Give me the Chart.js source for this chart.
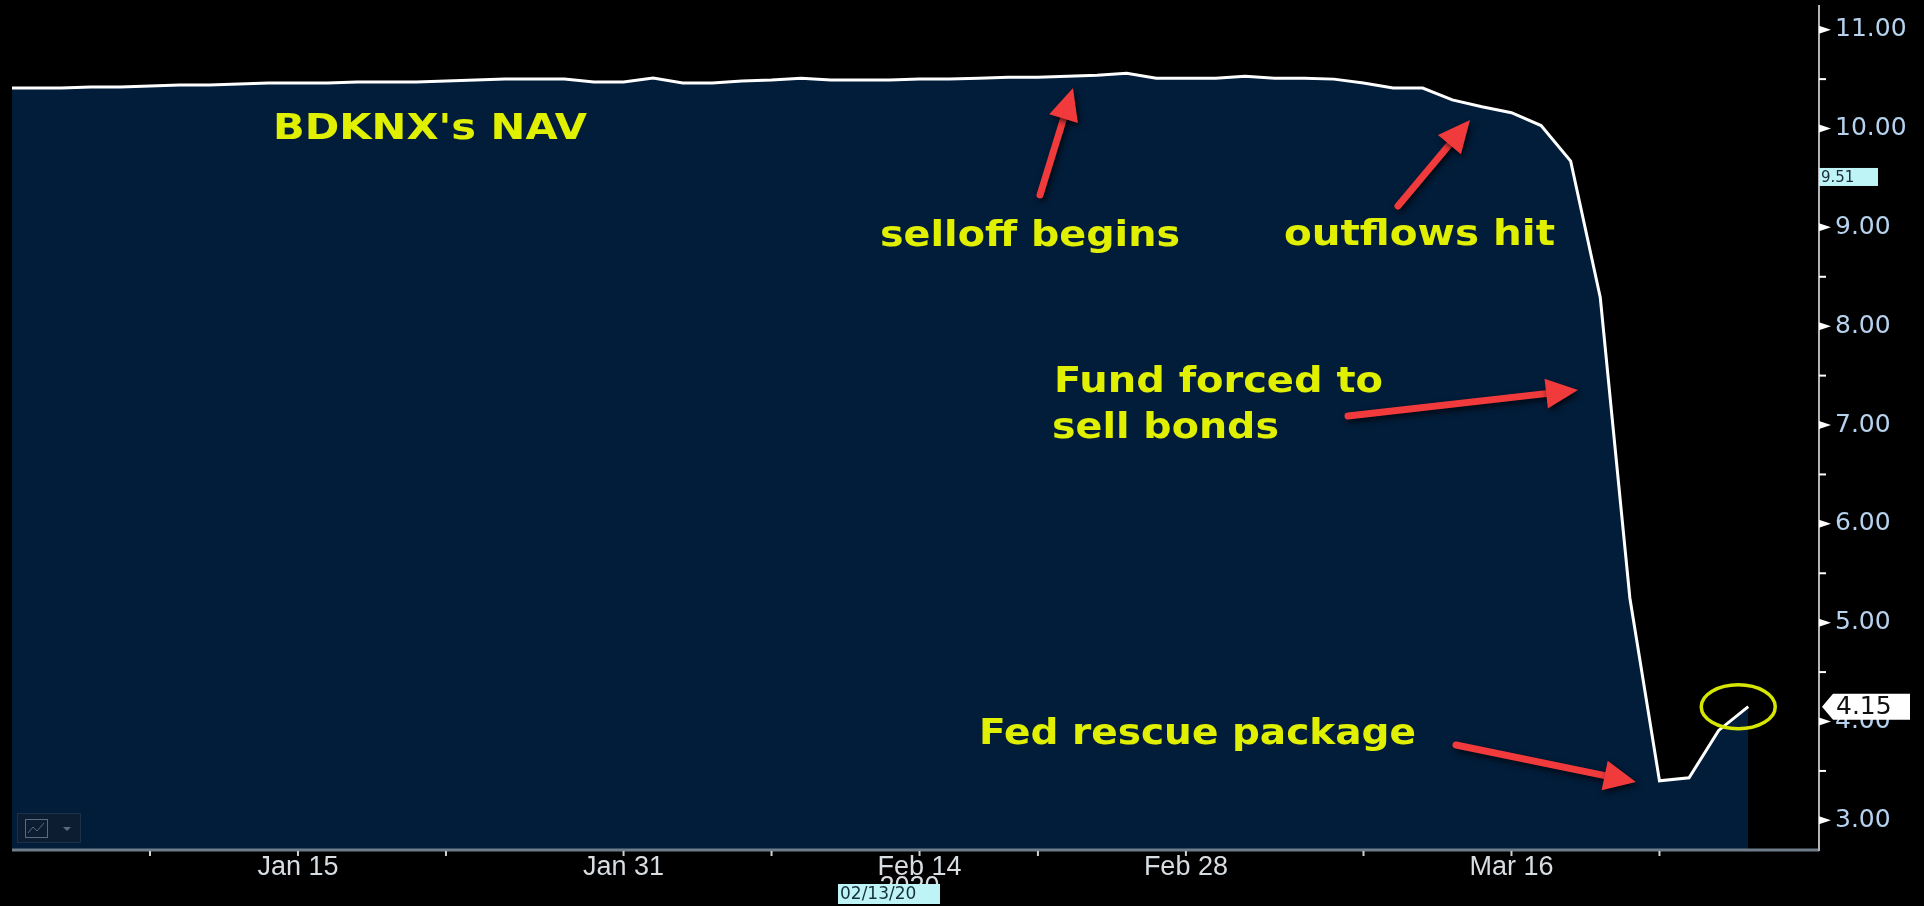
<!DOCTYPE html>
<html>
<head>
<meta charset="utf-8">
<script src="https://cdn.jsdelivr.net/npm/chart.js@4.4.1/dist/chart.umd.min.js"></script>
<style>
  html, body { margin: 0; padding: 0; background: #000; }
  #wrap { width: 1924px; height: 906px; }
</style>
</head>
<body>
<div id="wrap"><canvas id="navChart" width="1924" height="906"></canvas></div>
<script>
// trading days shown on the chart (Dec 31 2019 .. Mar 26 2020)
const days = [
  'Dec 31',
  'Jan 2', 'Jan 3', 'Jan 6', 'Jan 7', 'Jan 8', 'Jan 9', 'Jan 10', 'Jan 13', 'Jan 14', 'Jan 15',
  'Jan 16', 'Jan 17', 'Jan 21', 'Jan 22', 'Jan 23', 'Jan 24', 'Jan 27', 'Jan 28', 'Jan 29', 'Jan 30', 'Jan 31',
  'Feb 3', 'Feb 4', 'Feb 5', 'Feb 6', 'Feb 7', 'Feb 10', 'Feb 11', 'Feb 12', 'Feb 13', 'Feb 14',
  'Feb 18', 'Feb 19', 'Feb 20', 'Feb 21', 'Feb 24', 'Feb 25', 'Feb 26', 'Feb 27', 'Feb 28',
  'Mar 2', 'Mar 3', 'Mar 4', 'Mar 5', 'Mar 6', 'Mar 9', 'Mar 10', 'Mar 11', 'Mar 12', 'Mar 13',
  'Mar 16', 'Mar 17', 'Mar 18', 'Mar 19', 'Mar 20', 'Mar 23', 'Mar 24', 'Mar 25', 'Mar 26'
];

// BDKNX net asset value
const navValues = [
  10.41,
  10.41, 10.41, 10.42, 10.42, 10.43, 10.44, 10.44, 10.45, 10.46, 10.46,
  10.46, 10.47, 10.47, 10.47, 10.48, 10.49, 10.50, 10.50, 10.50, 10.47, 10.47,
  10.51, 10.46, 10.46, 10.48, 10.49, 10.51, 10.49, 10.49, 10.49, 10.50,
  10.50, 10.51, 10.52, 10.52, 10.53, 10.54, 10.56, 10.51, 10.51,
  10.51, 10.53, 10.51, 10.51, 10.50, 10.46, 10.41, 10.41, 10.29, 10.22,
  10.16, 10.03, 9.67, 8.29, 5.25, 3.40, 3.43, 3.91, 4.15
];

const majorDays = ['Jan 15', 'Jan 31', 'Feb 14', 'Feb 28', 'Mar 16'];
const minorDays = ['Jan 8', 'Jan 23', 'Feb 7', 'Feb 21', 'Mar 9', 'Mar 23'];
const yTicks = [3, 4, 5, 6, 7, 8, 9, 10, 11];
const markerValue = 9.51;
const yearLabel = '2020';
const cursorDate = '02/13/20';

const notes = [
  { text: "BDKNX's NAV", left: 273, right: 587, base: 139, size: 35 },
  { text: 'selloff begins', left: 880, right: 1180, base: 246, size: 36 },
  { text: 'outflows hit', left: 1284, right: 1555, base: 245, size: 36 },
  { text: 'Fund forced to', left: 1054, right: 1383, base: 392, size: 35 },
  { text: 'sell bonds', left: 1052, right: 1279, base: 438, size: 35 },
  { text: 'Fed rescue package', left: 979, right: 1416, base: 744, size: 35 }
];
const arrows = [
  [1040, 195, 1073, 88],
  [1398, 206, 1470, 120],
  [1348, 416, 1578, 390],
  [1456, 745, 1636, 782]
];

const YELLOW = '#e0f000';

function fitText(ctx, text, left, right, base, size) {
  ctx.font = 'bold ' + size + 'px "DejaVu Sans"';
  const w = ctx.measureText(text).width;
  ctx.save();
  ctx.translate(left, base);
  ctx.scale((right - left) / w, 1);
  ctx.fillText(text, 0, 0);
  ctx.restore();
}

function drawArrow(ctx, x1, y1, x2, y2) {
  const a = Math.atan2(y2 - y1, x2 - x1);
  const c = Math.cos(a), s = Math.sin(a);
  const headLen = 32, half = 15;
  const bx = x2 - headLen * c, by = y2 - headLen * s;
  ctx.save();
  ctx.shadowColor = 'rgba(0,0,0,0.75)';
  ctx.shadowBlur = 6;
  ctx.shadowOffsetX = 2;
  ctx.shadowOffsetY = 3;
  ctx.strokeStyle = '#f03a3c';
  ctx.fillStyle = '#f03a3c';
  ctx.lineWidth = 7;
  ctx.lineCap = 'round';
  ctx.beginPath();
  ctx.moveTo(x1, y1);
  ctx.lineTo(bx + 4 * c, by + 4 * s);
  ctx.stroke();
  ctx.beginPath();
  ctx.moveTo(x2, y2);
  ctx.lineTo(bx - half * s, by + half * c);
  ctx.lineTo(bx + half * s, by - half * c);
  ctx.closePath();
  ctx.fill();
  ctx.restore();
}

const overlay = {
  id: 'overlay',
  afterDraw(chart) {
    const ctx = chart.ctx;
    const x = chart.scales.x, y = chart.scales.y;
    const area = chart.chartArea;

    ctx.save();
    // axis lines
    ctx.strokeStyle = '#6f7c8a';
    ctx.lineWidth = 3;
    ctx.beginPath();
    ctx.moveTo(area.left, area.bottom + 1);
    ctx.lineTo(area.right, area.bottom + 1);
    ctx.stroke();
    ctx.strokeStyle = '#b4b4b4';
    ctx.lineWidth = 2;
    ctx.beginPath();
    ctx.moveTo(area.right, area.top);
    ctx.lineTo(area.right, area.bottom + 2);
    ctx.stroke();

    // y ticks: triangles on whole numbers, short dashes on halves
    ctx.fillStyle = '#ffffff';
    yTicks.forEach((v) => {
      const py = y.getPixelForValue(v);
      ctx.beginPath();
      ctx.moveTo(area.right, py - 4);
      ctx.lineTo(area.right + 12, py);
      ctx.lineTo(area.right, py + 4);
      ctx.closePath();
      ctx.fill();
      if (v < 11) {
        const ph = y.getPixelForValue(v + 0.5);
        ctx.fillRect(area.right, ph - 1, 7, 2);
      }
    });

    // x ticks
    ctx.fillStyle = '#d0d0d0';
    majorDays.concat(minorDays).forEach((d) => {
      const px = x.getPixelForValue(days.indexOf(d));
      ctx.fillRect(px - 1, area.bottom + 2, 2, 5);
    });

    // year label partly hidden behind the cursor date box
    ctx.font = '27px "Liberation Sans"';
    ctx.fillStyle = '#d8dde2';
    ctx.textAlign = 'center';
    ctx.textBaseline = 'top';
    ctx.fillText(yearLabel, x.getPixelForValue(days.indexOf('Feb 14')) - 10, 874);
    ctx.fillStyle = '#bff4f6';
    ctx.fillRect(838, 884, 102, 20);
    ctx.font = '17px "DejaVu Sans"';
    ctx.fillStyle = '#15303a';
    ctx.textAlign = 'left';
    ctx.textBaseline = 'middle';
    ctx.fillText(cursorDate, 840, 895);

    // 9.51 marker on the price axis
    const pm = y.getPixelForValue(markerValue);
    ctx.fillStyle = '#bff4f6';
    ctx.fillRect(area.right, pm - 9, 59, 18);
    ctx.font = '15px "DejaVu Sans"';
    ctx.fillStyle = '#1a2a36';
    ctx.fillText(markerValue.toFixed(2), area.right + 2, pm + 1);

    // last value flag
    const last = navValues[navValues.length - 1];
    const pl = y.getPixelForValue(last);
    ctx.fillStyle = '#ffffff';
    ctx.beginPath();
    ctx.moveTo(area.right + 3, pl);
    ctx.lineTo(area.right + 14, pl - 13);
    ctx.lineTo(1910, pl - 13);
    ctx.lineTo(1910, pl + 13);
    ctx.lineTo(area.right + 14, pl + 13);
    ctx.closePath();
    ctx.fill();
    ctx.font = '25px "DejaVu Sans"';
    ctx.fillStyle = '#111111';
    ctx.fillText(last.toFixed(2), area.right + 17, pl + 1);

    // little chart-type button, bottom left
    ctx.fillStyle = '#0c1d31';
    ctx.fillRect(17, 813, 64, 30);
    ctx.strokeStyle = '#1d3046';
    ctx.lineWidth = 1;
    ctx.strokeRect(17.5, 813.5, 63, 29);
    ctx.strokeStyle = '#5b6b7c';
    ctx.strokeRect(25.5, 819.5, 22, 18);
    ctx.beginPath();
    ctx.moveTo(28, 833);
    ctx.lineTo(33, 827);
    ctx.lineTo(37, 831);
    ctx.lineTo(44, 823);
    ctx.stroke();
    ctx.fillStyle = '#5b6b7c';
    ctx.beginPath();
    ctx.moveTo(63, 827);
    ctx.lineTo(71, 827);
    ctx.lineTo(67, 831);
    ctx.closePath();
    ctx.fill();

    // annotations
    ctx.fillStyle = YELLOW;
    ctx.textAlign = 'left';
    ctx.textBaseline = 'alphabetic';
    notes.forEach((n) => fitText(ctx, n.text, n.left, n.right, n.base, n.size));
    arrows.forEach((a) => drawArrow(ctx, a[0], a[1], a[2], a[3]));

    // circle round the latest value
    ctx.strokeStyle = '#d6e600';
    ctx.lineWidth = 3.5;
    ctx.beginPath();
    ctx.ellipse(x.getPixelForValue(navValues.length - 1) - 10, pl, 37, 22, 0, 0, Math.PI * 2);
    ctx.stroke();
    ctx.restore();
  }
};

const ctx = document.getElementById('navChart').getContext('2d');

const navChart = new Chart(ctx, {
  type: 'line',
  data: {
    datasets: [{
      data: navValues.map((v, i) => ({ x: i, y: v })),
      borderColor: '#ffffff',
      borderWidth: 3,
      backgroundColor: '#021d3a',
      fill: 'start',
      pointRadius: 0,
      tension: 0
    }]
  },
  options: {
    responsive: false,
    animation: false,
    devicePixelRatio: 1,
    layout: { padding: { left: 12, top: 5, right: 0, bottom: 0 } },
    plugins: { legend: { display: false }, tooltip: { enabled: false } },
    scales: {
      x: {
        type: 'linear',
        min: 0.338,
        max: 61.39,
        grid: { display: false, drawTicks: false },
        border: { display: false },
        afterBuildTicks: (scale) => {
          scale.ticks = majorDays.map((d) => ({ value: days.indexOf(d) }));
        },
        afterFit: (scale) => {
          scale.height = 57;
          scale.paddingLeft = 0;
          scale.paddingRight = 0;
        },
        ticks: {
          autoSkip: false,
          maxRotation: 0,
          padding: 2,
          color: '#d8dde2',
          font: { family: 'Liberation Sans', size: 27 },
          callback: (v) => days[v]
        }
      },
      y: {
        position: 'right',
        min: 2.71,
        max: 11.25,
        grid: { display: false, drawTicks: false },
        border: { display: false },
        afterBuildTicks: (scale) => {
          scale.ticks = yTicks.map((v) => ({ value: v }));
        },
        afterFit: (scale) => {
          scale.width = 105;
          scale.paddingTop = 0;
          scale.paddingBottom = 0;
        },
        ticks: {
          padding: 16,
          color: '#b6d2ee',
          font: { family: 'DejaVu Sans', size: 25 },
          callback: (v) => v.toFixed(2)
        }
      }
    }
  },
  plugins: [overlay]
});
</script>
</body>
</html>
